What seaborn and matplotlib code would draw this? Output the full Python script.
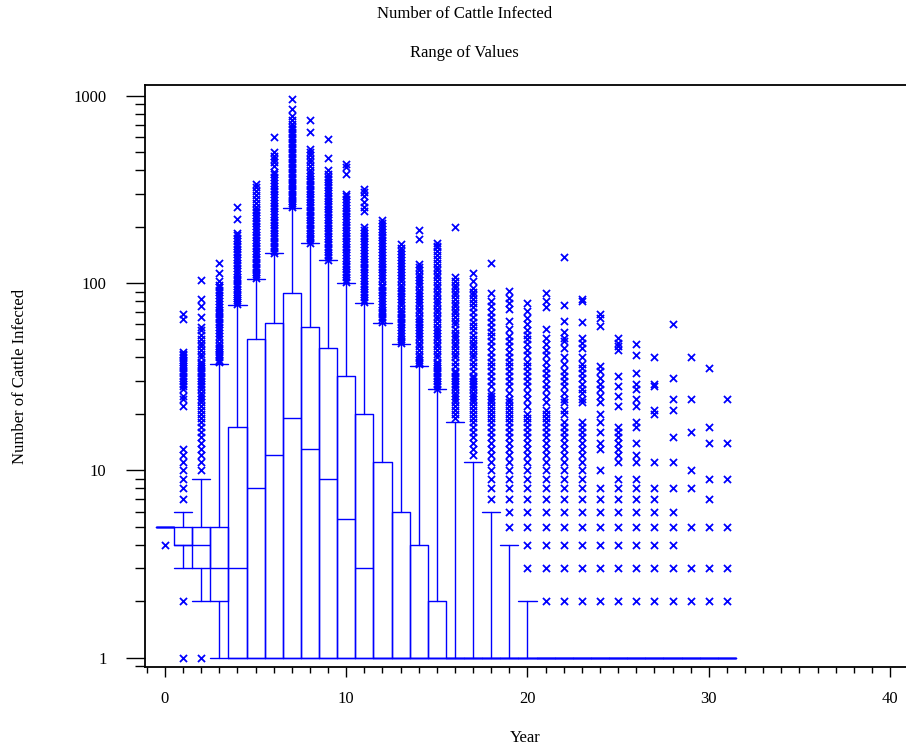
import pandas as pd
import matplotlib
matplotlib.use("Agg")
import matplotlib.pyplot as plt
import matplotlib.ticker as mticker
import seaborn as sns

# box statistics per year
years = list(range(32))
q1 = [5, 4, 3, 2] + [1] * 28
med = [5, 4, 4, 3, 3, 8, 12, 19, 13, 9, 5.5, 3] + [1] * 20
q3 = [5, 5, 5, 5, 17, 50, 61, 88, 58, 45, 32, 20, 11, 6, 4, 2] + [1] * 16
whislo = [5, 3, 2, 1] + [1] * 28
whishi = [5, 6, 9, 37, 76, 105, 144, 252, 163, 132, 100, 78, 61, 47, 36, 27,
          18, 11, 6, 4, 2] + [1] * 11

# outlier values (x marks) for each year
outliers = [
    [4],
    [1, 2, 7, 8, 9, 10, 11, 12, 13, 22, 24, 25, 27, 28, 29, 30, 31, 32, 33, 34,
     35, 36, 37, 38, 39, 40, 41, 42, 43, 64, 68],
    [1, 10, 11, 12, 13, 14, 15, 16, 17, 18, 19, 20, 21, 22, 23, 24, 25, 26, 27,
     28, 29, 30, 31, 32, 33, 34, 35, 36, 37, 38, 40, 42, 44, 46, 48, 50, 53, 56,
     58, 66, 75, 82, 104],
    [38, 39, 40, 41, 42, 43, 44, 45, 46, 48, 50, 52, 54, 56, 58, 60, 62, 64, 66,
     68, 70, 72, 74, 77, 80, 83, 86, 89, 92, 95, 98, 102, 113, 128],
    [77, 79, 81, 83, 85, 87, 90, 93, 96, 99, 102, 105, 108, 112, 116, 120, 124,
     128, 132, 137, 142, 147, 152, 157, 162, 168, 174, 180, 184, 219, 254],
    [106, 109, 112, 115, 118, 122, 126, 130, 134, 138, 143, 148, 153, 158, 163,
     169, 175, 181, 187, 194, 201, 208, 215, 222, 230, 238, 246, 255, 268, 280,
     295, 309, 324, 339],
    [145, 149, 153, 158, 163, 168, 173, 179, 185, 191, 197, 204, 211, 218, 226,
     234, 242, 250, 259, 268, 277, 287, 297, 308, 319, 330, 342, 354, 367, 380,
     393, 420, 440, 457, 475, 500, 605],
    [253, 260, 267, 275, 283, 291, 300, 309, 318, 328, 338, 348, 359, 370, 381,
     393, 405, 417, 430, 443, 457, 471, 486, 501, 517, 533, 550, 567, 585, 603,
     622, 641, 661, 681, 702, 740, 776, 852, 955],
    [164, 169, 174, 179, 185, 191, 197, 203, 210, 217, 224, 231, 238, 246, 254,
     262, 271, 280, 289, 298, 308, 318, 328, 339, 350, 361, 373, 385, 400, 420,
     440, 460, 480, 500, 520, 642, 745],
    [133, 137, 141, 146, 151, 156, 161, 166, 172, 178, 184, 190, 196, 203, 210,
     217, 224, 232, 240, 248, 256, 265, 274, 283, 293, 303, 313, 324, 335, 346,
     358, 370, 384, 403, 464, 590],
    [101, 104, 107, 111, 115, 119, 123, 127, 131, 136, 141, 146, 151, 156, 161,
     167, 173, 179, 185, 191, 198, 205, 212, 219, 227, 235, 243, 252, 261, 270,
     280, 290, 300, 380, 415, 429],
    [79, 81, 84, 87, 90, 93, 96, 99, 102, 106, 110, 114, 118, 122, 126, 130, 135,
     140, 145, 150, 155, 161, 167, 173, 179, 185, 192, 200, 241, 255, 272, 290,
     305, 318],
    [62, 64, 66, 68, 70, 72, 74, 77, 80, 83, 86, 89, 92, 95, 98, 102, 106, 110,
     114, 118, 122, 126, 131, 136, 141, 146, 151, 157, 163, 169, 175, 181, 188,
     195, 202, 210, 218],
    [48, 49, 50, 52, 54, 56, 58, 60, 62, 64, 66, 68, 70, 73, 76, 79, 82, 85, 88,
     91, 94, 98, 102, 106, 110, 114, 118, 123, 128, 133, 138, 143, 148, 154,
     162],
    [37, 38, 39, 40, 42, 44, 46, 48, 50, 52, 54, 56, 58, 60, 62, 64, 67, 70, 73,
     76, 79, 82, 85, 88, 92, 96, 100, 104, 108, 112, 117, 121, 126, 172, 191],
    [27, 28, 29, 30, 31, 32, 33, 34, 35, 36, 37, 38, 40, 42, 44, 46, 48, 50, 52,
     54, 56, 58, 61, 64, 67, 70, 73, 76, 79, 82, 86, 90, 94, 98, 102, 107, 112,
     117, 122, 128, 134, 141, 148, 155, 158, 163],
    [19, 20, 21, 22, 23, 24, 25, 26, 27, 28, 29, 30, 31, 32, 33, 34, 36, 38, 40,
     42, 44, 46, 48, 50, 52, 54, 57, 60, 63, 66, 69, 72, 75, 78, 82, 86, 90, 94,
     98, 103, 108, 199],
    [12, 13, 14, 15, 16, 17, 18, 19, 20, 21, 22, 23, 24, 25, 26, 27, 28, 29, 30,
     31, 32, 34, 36, 38, 40, 42, 44, 46, 48, 50, 53, 56, 59, 62, 66, 70, 74, 78,
     82, 86, 90, 94, 102, 113],
    [7, 8, 9, 10, 11, 12, 13, 14, 15, 16, 17, 18, 19, 20, 21, 22, 23, 24, 25, 26,
     28, 30, 32, 34, 36, 38, 40, 43, 46, 49, 52, 55, 58, 62, 66, 70, 75, 80, 88,
     128],
    [5, 6, 7, 8, 9, 10, 11, 12, 13, 14, 15, 16, 17, 18, 19, 20, 21, 22, 23, 24,
     26, 28, 30, 32, 34, 36, 38, 40, 43, 46, 49, 52, 57, 63, 73, 78, 83, 91],
    [3, 4, 5, 6, 7, 8, 9, 10, 11, 12, 13, 14, 15, 16, 17, 18, 19, 20, 22, 24, 26,
     28, 30, 32, 34, 36, 38, 41, 44, 47, 50, 53, 56, 60, 65, 71, 78],
    [2, 3, 4, 5, 6, 7, 8, 9, 10, 11, 12, 13, 14, 15, 16, 17, 18, 19, 20, 21, 23,
     25, 27, 29, 31, 33, 35, 38, 41, 44, 47, 51, 57, 74, 80, 88],
    [2, 3, 4, 5, 6, 7, 8, 9, 10, 11, 12, 13, 14, 15, 16, 17, 18, 20, 21, 23, 24,
     26, 28, 30, 32, 34, 37, 40, 45, 49, 51, 55, 63, 76, 138],
    [2, 3, 4, 5, 6, 7, 8, 9, 10, 11, 12, 13, 14, 15, 16, 17, 18, 23, 24, 26, 27,
     29, 31, 33, 35, 37, 40, 45, 48, 51, 62, 80, 82],
    [2, 3, 4, 5, 6, 7, 8, 10, 13, 14, 16, 18, 20, 23, 25, 27, 29, 31, 34, 36, 59,
     65, 68],
    [2, 3, 4, 5, 6, 7, 8, 9, 11, 12, 13, 14, 15, 16, 17, 22, 25, 28, 32, 44, 46,
     48, 51],
    [2, 3, 4, 5, 6, 7, 8, 9, 11, 12, 14, 17, 18, 22, 24, 27, 29, 33, 41, 47],
    [2, 3, 4, 5, 6, 7, 8, 11, 20, 21, 28, 29, 40],
    [2, 3, 4, 5, 6, 8, 11, 15, 21, 24, 31, 60],
    [2, 3, 5, 8, 10, 16, 24, 40],
    [2, 3, 5, 7, 9, 14, 17, 35],
    [2, 3, 5, 9, 14, 24],
]

sns.set_style("ticks", {"axes.edgecolor": "black", "xtick.color": "black",
                        "ytick.color": "black", "text.color": "black",
                        "axes.labelcolor": "black"})
plt.rcParams['font.family'] = ['Liberation Serif', 'DejaVu Serif']
plt.rcParams['font.size'] = 12

fig = plt.figure(figsize=(9.06, 7.5), dpi=100)
ax = fig.add_axes([145 / 906, 1 - 667 / 750, (906 - 145) / 906, (667 - 85) / 750])
ax.set_yscale('log')

# boxes from the read statistics
stats = []
for i in range(len(years)):
    stats.append(dict(q1=q1[i], med=med[i], q3=q3[i], whislo=whislo[i],
                      whishi=whishi[i], fliers=[]))
lineprops = dict(color='blue', linewidth=1)
ax.bxp(stats, positions=years, widths=1.0, capwidths=1.0, showfliers=False,
       manage_ticks=False, boxprops=lineprops, whiskerprops=lineprops,
       capprops=lineprops, medianprops=lineprops)

# outliers as x marks
rows = [(y, v) for y, vals in zip(years, outliers) for v in vals]
df = pd.DataFrame(rows, columns=['Year', 'Cattle'])
sns.scatterplot(data=df, x='Year', y='Cattle', marker='x', color='blue', s=26,
                linewidth=1.3, ax=ax, legend=False, zorder=3)

ax.set_xlim(-1.1, 40.88)
ax.set_ylim(0.89, 1140)
ax.set_xticks([0, 10, 20, 30, 40])
ax.xaxis.set_minor_locator(mticker.MultipleLocator(1))
ax.yaxis.set_major_locator(mticker.LogLocator(base=10))
ax.yaxis.set_minor_locator(mticker.LogLocator(base=10, subs=range(2, 10)))
ax.yaxis.set_major_formatter(mticker.FuncFormatter(lambda v, _: f"{v:g}"))
ax.yaxis.set_minor_formatter(mticker.NullFormatter())
ax.tick_params(axis='x', which='major', length=7.2, width=1, pad=10, labelsize=12)
ax.tick_params(axis='x', which='minor', length=4.3, width=1)
ax.tick_params(axis='y', which='major', length=13.7, width=1, pad=14, labelsize=12)
ax.tick_params(axis='y', which='minor', length=7.2, width=1)

ax.spines['right'].set_visible(False)
for s in ['left', 'bottom', 'top']:
    ax.spines[s].set_linewidth(1.3)

ax.set_xlabel('Year', fontsize=12, labelpad=17)
ax.set_ylabel('Number of Cattle Infected', fontsize=12, labelpad=33)
fig.text(0.5125, 1 - 14 / 750, 'Number of Cattle Infected', ha='center',
         va='center', fontsize=12)
fig.text(0.5125, 1 - 53 / 750, 'Range of Values', ha='center', va='center',
         fontsize=12)

fig.savefig('out.png', dpi=100)
